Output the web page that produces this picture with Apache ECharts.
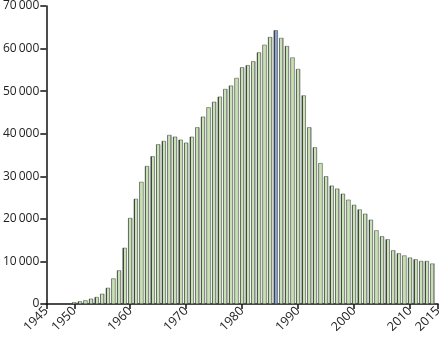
<!DOCTYPE html>
<html><head><meta charset="utf-8">
<script src="https://cdn.jsdelivr.net/npm/echarts@6/dist/echarts.min.js"></script>
<style>html,body{margin:0;padding:0;background:#fff}#c{width:446px;height:340px}</style>
</head><body><div id="c"></div>
<script>
const years = [];
for (let y = 1950; y <= 2014; y++) years.push(y);
const values = [
  400, 630, 860, 1250, 1640, 2400, 3800, 6000, 7900, 13200,
  20200, 24700, 28700, 32400, 34700, 37500, 38300, 39700, 39300, 38600,
  37900, 39300, 41500, 44000, 46200, 47500, 48700, 50500, 51300, 53100,
  55600, 56100, 57000, 59100, 60900, 62700, 64300, 62500, 60600, 57900,
  55200, 49000, 41500, 36800, 33100, 30000, 27800, 27100, 25900, 24500,
  23300, 22200, 21200, 19800, 17300, 15900, 15200, 12600, 11900, 11400,
  10900, 10500, 10100, 10100, 9500
];
const highlightYear = 1986;
const xTickLabels = [1945, 1950, 1960, 1970, 1980, 1990, 2000, 2010, 2015];

function barFill(mid, edge) {
  return {
    type: 'linear', x: 0, y: 0, x2: 1, y2: 0,
    colorStops: [
      { offset: 0, color: '#3c4a3c' }, { offset: 0.24, color: '#3c4a3c' },
      { offset: 0.24, color: mid }, { offset: 0.76, color: mid },
      { offset: 0.76, color: edge }, { offset: 1, color: edge }
    ]
  };
}
const greenFill = barFill('#c8e0b2', '#9a9f98');
const blueFill = barFill('#8a9fd8', '#6f7fa8');
const data = years.map((y, i) => ({
  value: [y, values[i]],
  itemStyle: { color: y === highlightYear ? blueFill : greenFill }
}));

const font = 'Open Sans, Noto Sans, sans-serif';
const chart = echarts.init(document.getElementById('c'));
chart.setOption({
  animation: false,
  grid: { left: 45, right: 8, top: 5, bottom: 36 },
  xAxis: {
    type: 'value', min: 1945, max: 2015, interval: 5,
    axisLine: { show: true, lineStyle: { color: '#111', width: 1.5 } },
    axisTick: { show: true, length: 5, customValues: xTickLabels, lineStyle: { color: '#111', width: 1.5 } },
    axisLabel: { customValues: xTickLabels, rotate: 45, margin: 5, color: '#222', fontSize: 12.5, fontFamily: font, formatter: v => String(v) },
    splitLine: { show: false }
  },
  yAxis: {
    type: 'value', min: 0, max: 70000, interval: 10000,
    axisLine: { show: true, lineStyle: { color: '#111', width: 1.5 } },
    axisTick: { show: true, length: 6, lineStyle: { color: '#111', width: 1.5 } },
    axisLabel: { margin: 7, color: '#222', fontSize: 12, fontFamily: font,
      formatter: v => v === 0 ? '0' : String(v / 1000) + '\u2009000' },
    splitLine: { show: false }
  },
  series: [{
    type: 'bar', data: data, barWidth: 4.2,
    itemStyle: { borderColor: '#3c4a3c', borderWidth: 0.5 }
  }]
});
</script></body></html>
